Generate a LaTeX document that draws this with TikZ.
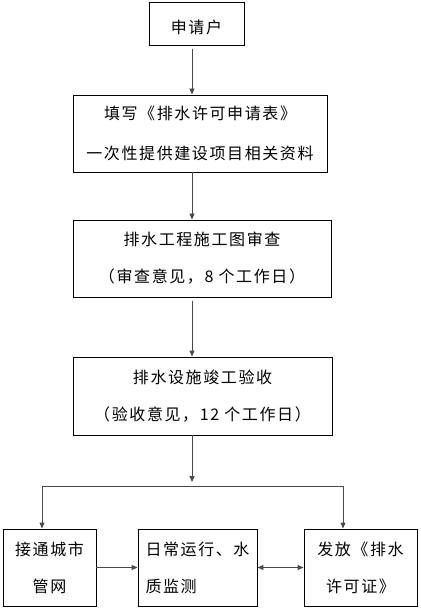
\documentclass[tikz,border=0pt]{standalone}
\usepackage{fontspec}
\newfontfamily\cjk[LetterSpace=10]{Noto Sans CJK SC}
\usetikzlibrary{positioning,arrows.meta}
\definecolor{flowcol}{HTML}{4A4A4A}
\tikzset{
  bx/.style={draw=black, line width=0.9pt, minimum width=#1, minimum height=77pt,
    inner sep=0pt, align=center, execute at begin node={\rule{0pt}{22pt}}}}

\begin{document}
\begin{tikzpicture}[x=1pt, y=-1pt, font=\cjk\fontsize{16}{37}\selectfont,
      fl/.style={-{Triangle[length=6pt, width=5pt]}, line width=0.9pt, flowcol},
      ln/.style={line width=0.9pt, flowcol},
      bi/.style={{Triangle[length=6pt, width=5pt]}-{Triangle[length=6pt, width=5pt]},
        line width=0.9pt, flowcol}]
      \useasboundingbox (0,0) rectangle (420,609);
      \node[bx=95pt, minimum height=43pt] (app) at (196.5, 23.5) {申请户};
      \node[bx=254pt] (form) at (200, 133.5) {填写《排水许可申请表》\\[3pt] 一次性提供建设项目相关资料};
      \node[bx=258pt] (rev) at (202, 258.5) {排水工程施工图审查\\ （审查意见，8 个工作日）};
      \node[bx=259pt, minimum height=78pt] (acc) at (202.5, 396) {排水设施竣工验收\\ （验收意见，12 个工作日）};
      \node[bx=93pt] (net) at (49.5, 567.5) {接通城市\\ 管网};
      \node[bx=119pt, align=left] (mon) at (197.5, 567.5) {日常运行、水\\ 质监测};
      \node[bx=113pt] (lic) at (360.5, 567.5) {发放《排水\\ 许可证》};
      \coordinate (split) at (192, 486);
      \coordinate (lj) at (42, 486);
      \coordinate (rj) at (343, 486);
      \draw[fl] ([yshift=-4pt]app.south -| split) -- (form.north -| split);
      \draw[fl] (form.south -| split) -- (rev.north -| split);
      \draw[fl] ([yshift=-4pt]rev.south -| split) -- (acc.north -| split);
      \draw[fl] (acc.south -| split) -- ([yshift=4pt]split);
      \draw[ln] (lj) -- (rj);
      \draw[fl] (lj) -- (net.north -| lj);
      \draw[fl] (rj) -- (lic.north -| rj);
      \draw[fl] (net.east) -- (mon.west);
      \draw[bi] (mon.east) -- (lic.west);
    \end{tikzpicture}
\end{document}
